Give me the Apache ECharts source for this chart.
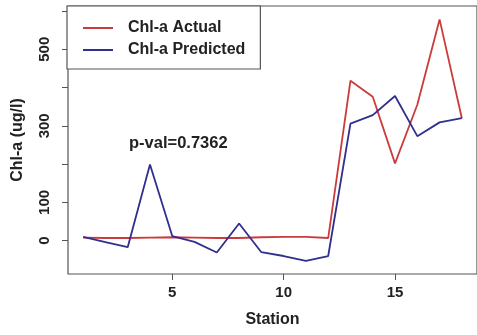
<!DOCTYPE html>
<html><head><meta charset="utf-8">
<script src="https://cdn.jsdelivr.net/npm/echarts@6/dist/echarts.min.js"></script>
<style>html,body{margin:0;padding:0;background:#fff}#c{width:477px;height:335px}</style>
</head><body><div id="c"></div>
<script>
const stations = [1,2,3,4,5,6,7,8,9,10,11,12,13,14,15,16,17,18];
const actual = [8,7,7,8,9,8,7,7,9,10,10,7,418,376,202,355,578,320];
const predicted = [10,-4,-17,199,12,-3,-31,45,-30,-40,-53,-40,306,328,378,273,309,320];
const xTicks = [5,10,15];
const yTicks = [0,100,200,300,400,500,600];
const yLabels = [0,100,300,500];
const pText = 'p-val=0.7362';
const FONT = '"Liberation Sans", Arial, sans-serif';
const AX = '#555';
const chart = echarts.init(document.getElementById('c'));
chart.setOption({
  animation:false,
  backgroundColor:'#fff',
  grid:{left:68, top:6, right:-3, bottom:61, show:true, borderColor:AX, borderWidth:1.2, backgroundColor:'transparent'},
  xAxis:{type:'value', min:0.32, max:18.68,
    name:'Station', nameLocation:'middle', nameGap:38,
    nameTextStyle:{fontFamily:FONT, fontWeight:'bold', fontSize:16, color:'#222'},
    axisLine:{show:false, onZero:false}, splitLine:{show:false},
    axisTick:{show:true, length:6, customValues:xTicks, lineStyle:{color:AX}},
    axisLabel:{customValues:xTicks, margin:11, fontFamily:FONT, fontWeight:'bold', fontSize:15, color:'#222'}},
  yAxis:{type:'value', min:-87, max:613,
    name:'Chl-a (ug/l)', nameLocation:'middle', nameGap:42,
    nameTextStyle:{fontFamily:FONT, fontWeight:'bold', fontSize:16, color:'#222'},
    axisLine:{show:false, onZero:false}, splitLine:{show:false},
    axisTick:{show:true, length:6, customValues:yTicks, lineStyle:{color:AX}},
    axisLabel:{customValues:yLabels, rotate:90, margin:16, fontFamily:FONT, fontWeight:'bold', fontSize:15, color:'#222'}},
  legend:{orient:'vertical', left:67, top:6, padding:[13,15,10,16], itemGap:4,
    borderColor:AX, borderWidth:1.2, borderRadius:0, backgroundColor:'#fff',
    itemWidth:30, itemHeight:2, icon:'rect',
    textStyle:{fontFamily:FONT, fontWeight:'bold', fontSize:16, lineHeight:18, color:'#222', padding:[0,0,0,10]},
    data:['Chl-a Actual','Chl-a Predicted']},
  graphic:[{type:'text', left:129, top:135, style:{text:pText, font:'bold 16.5px '+FONT, fill:'#222'}}],
  series:[
    {name:'Chl-a Actual', type:'line', data:stations.map((s,i)=>[s,actual[i]]), showSymbol:false, symbol:'none',
      lineStyle:{color:'#cc3b3b', width:1.8}, itemStyle:{color:'#cc3b3b'}},
    {name:'Chl-a Predicted', type:'line', data:stations.map((s,i)=>[s,predicted[i]]), showSymbol:false, symbol:'none',
      lineStyle:{color:'#2f2f90', width:1.8}, itemStyle:{color:'#2f2f90'}}
  ]
});
</script></body></html>
